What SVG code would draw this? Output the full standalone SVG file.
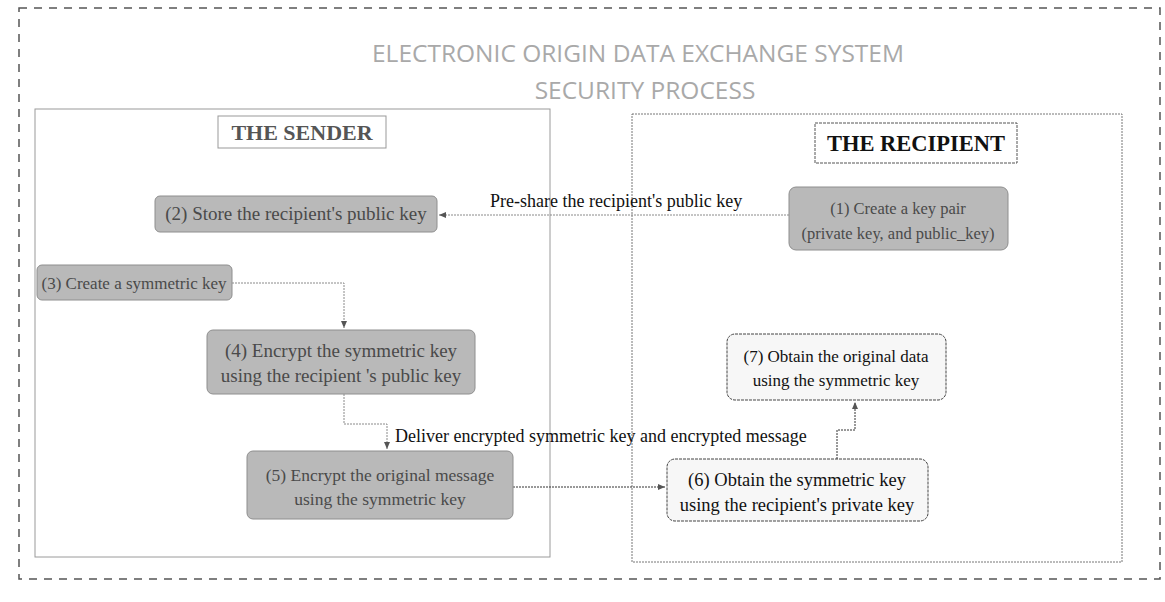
<svg xmlns="http://www.w3.org/2000/svg" width="1165" height="602" viewBox="0 0 1165 602">
  <defs>
    <style>
      .title { font-family: "Open Sans", "Liberation Sans", sans-serif; font-size: 24.5px; fill: #a9a9a9; text-anchor: middle; }
      .panel { fill: #ffffff; stroke: #9a9a9a; stroke-width: 1; }
      .panel-dot { fill: #ffffff; stroke: #777; stroke-width: 1; stroke-dasharray: 2 1; }
      .head { font-family: "Liberation Serif", serif; font-weight: bold; text-anchor: middle; }
      .dark { fill: #b9b9b9; stroke: #8e8e8e; stroke-width: 1; }
      .light { fill: #f7f7f7; stroke: #444; stroke-width: 1; stroke-dasharray: 3 1; }
      .nt { font-family: "Liberation Serif", serif; text-anchor: middle; }
      .nt-dark { fill: #4a4a4a; }
      .nt-light { fill: #111; }
      .lbl { font-family: "Liberation Serif", serif; font-size: 18px; fill: #111; }
      .conn { fill: none; stroke: #8a8a8a; stroke-width: 1; stroke-dasharray: 2 1; }
      .conn-dark { fill: none; stroke: #333; stroke-width: 1; stroke-dasharray: 2 1; }
    </style>
    <marker id="arr" markerWidth="8" markerHeight="8" refX="7" refY="4" orient="auto" markerUnits="userSpaceOnUse">
      <path d="M0,1 L7,4 L0,7 Z" fill="#555"/>
    </marker>
  </defs>

  <rect width="1165" height="602" fill="#ffffff"/>

  <!-- outer dashed frame -->
  <rect x="19" y="8" width="1141" height="571" fill="none" stroke="#555" stroke-width="1.5" stroke-dasharray="8 7"/>

  <!-- title -->
  <text class="title" x="638" y="62">ELECTRONIC ORIGIN DATA EXCHANGE SYSTEM</text>
  <text class="title" x="645" y="99">SECURITY PROCESS</text>

  <!-- panels -->
  <g id="sender-panel">
    <rect class="panel" x="35" y="109" width="515" height="448"/>
    <rect x="218" y="116" width="168" height="32" fill="#fff" stroke="#999"/>
    <text class="head" x="302" y="140" font-size="22" fill="#555">THE SENDER</text>
  </g>
  <g id="recipient-panel">
    <rect class="panel-dot" x="632" y="114" width="490" height="448"/>
    <rect x="815" y="123" width="202" height="40" fill="#fff" stroke="#555" stroke-dasharray="3 1"/>
    <text class="head" x="916" y="151" font-size="22.5" fill="#111">THE RECIPIENT</text>
  </g>

  <!-- connectors -->
  <g id="connectors">
    <path class="conn" d="M789,215 L439,215" marker-end="url(#arr)"/>
    <path class="conn" d="M232,283 L344,283 L344,328" marker-end="url(#arr)"/>
    <path class="conn" d="M344,394 L344,424 L387,424 L387,449" marker-end="url(#arr)"/>
    <path class="conn-dark" d="M513,487 L665,487" marker-end="url(#arr)"/>
    <path class="conn-dark" d="M837,459 L837,430 L855,430 L855,402" marker-end="url(#arr)"/>
    <text class="lbl" x="490" y="207">Pre-share the recipient's public key</text>
    <text class="lbl" x="395" y="442">Deliver encrypted symmetric key and encrypted message</text>
  </g>

  <!-- sender nodes -->
  <g id="node-2">
    <rect class="dark" x="155" y="196" width="282" height="36" rx="5"/>
    <text class="nt nt-dark" x="296" y="220" font-size="19">(2) Store the recipient's public key</text>
  </g>
  <g id="node-3">
    <rect class="dark" x="37" y="265" width="195" height="35" rx="5"/>
    <text class="nt nt-dark" x="134" y="289" font-size="17">(3) Create a symmetric key</text>
  </g>
  <g id="node-4">
    <rect class="dark" x="207" y="330" width="268" height="64" rx="6"/>
    <text class="nt nt-dark" x="341" y="357" font-size="19">(4) Encrypt the symmetric key</text>
    <text class="nt nt-dark" x="341" y="382" font-size="19">using the recipient 's public key</text>
  </g>
  <g id="node-5">
    <rect class="dark" x="247" y="451" width="266" height="68" rx="6"/>
    <text class="nt nt-dark" x="380" y="481" font-size="17.5">(5) Encrypt the original message</text>
    <text class="nt nt-dark" x="380" y="505" font-size="17.5">using the symmetric key</text>
  </g>

  <!-- recipient nodes -->
  <g id="node-1">
    <rect class="dark" x="789" y="187" width="219" height="63" rx="7"/>
    <text class="nt nt-dark" x="898" y="214" font-size="16.5">(1) Create a key pair</text>
    <text class="nt nt-dark" x="898" y="239" font-size="16.5">(private key, and public_key)</text>
  </g>
  <g id="node-7">
    <rect class="light" x="727" y="334" width="219" height="66" rx="8"/>
    <text class="nt nt-light" x="836" y="362" font-size="17">(7) Obtain the original data</text>
    <text class="nt nt-light" x="836" y="386" font-size="17">using the symmetric key</text>
  </g>
  <g id="node-6">
    <rect class="light" x="667" y="459" width="261" height="62" rx="8"/>
    <text class="nt nt-light" x="797" y="486" font-size="18.5">(6) Obtain the symmetric key</text>
    <text class="nt nt-light" x="797" y="511" font-size="18.5">using the recipient's private key</text>
  </g>
</svg>
